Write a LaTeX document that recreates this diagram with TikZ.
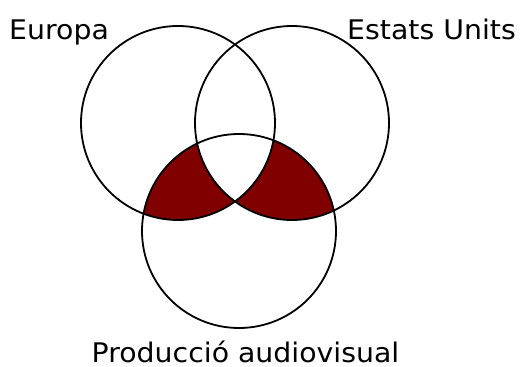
\documentclass[tikz,border=0pt]{standalone}
\usepackage{fontspec}
\setsansfont{DejaVu Sans}
\definecolor{venndark}{RGB}{128,0,0}

\begin{document}
\begin{tikzpicture}[
    x=1pt, y=-1pt,
    every node/.style={font=\fontsize{27}{30}\selectfont\sffamily, inner sep=0pt,
        xscale=1.05},
    ring/.style={draw=black, line width=1.8pt},
    zone/.style={fill=venndark, even odd rule},
]
\useasboundingbox (0,0) rectangle (523,367);

% ====== CENTRES ======
\coordinate (eu) at (178,123);
\coordinate (us) at (292,123);
\coordinate (av) at (239,231);

% ====== SHADED ZONES ======
\begin{scope}
    \clip (av) circle[radius=97pt];
    \clip (eu) circle[radius=97pt];
    \fill[zone] (0,0) rectangle (523,367) (us) circle[radius=97pt];
\end{scope}
\begin{scope}
    \clip (av) circle[radius=97pt];
    \clip (us) circle[radius=97pt];
    \fill[zone] (0,0) rectangle (523,367) (eu) circle[radius=97pt];
\end{scope}

% ====== CIRCLES ======
\foreach \c in {eu, us, av}
    \draw[ring] (\c) circle[radius=97pt];

% ====== LABELS ======
\node[anchor=base west] (europa)    at (9,39)      {Europa};
\node[anchor=base east] (estats)    at (516,39)    {Estats Units};
\node[anchor=base]      (produccio) at (245.5,362) {Producció audiovisual};

\end{tikzpicture}
\end{document}
